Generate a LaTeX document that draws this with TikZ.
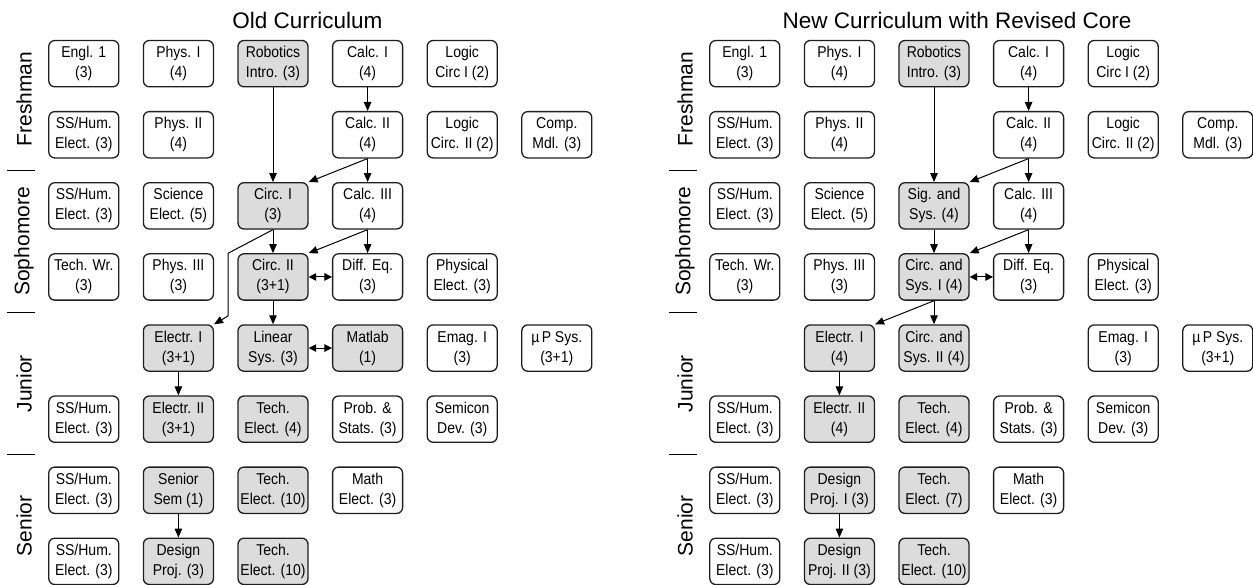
\documentclass[tikz,border=0pt]{standalone}
\usepackage{fontspec}
\usepackage{graphicx}
\setmainfont{Liberation Sans}
\usetikzlibrary{arrows.meta}
\definecolor{boxgray}{HTML}{DCDCDC}
\definecolor{edgecol}{HTML}{1E1E1E}
\newcommand\twoline[2]{\scalebox{1}[1.12]{\begin{tabular}{@{}c@{}}#1\\[-0.05pt]#2\end{tabular}}}
\tikzset{
 course/.style={draw=edgecol, line width=1.3pt, rounded corners=6pt, minimum width=70pt, minimum height=46.3pt, inner sep=0pt, align=center, font=\fontsize{14}{17.9}\selectfont, fill=white},
 core/.style={course, fill=boxgray},
 link/.style={draw=black, line width=1pt, -{Triangle[length=9pt,width=7.5pt]}},
 both/.style={draw=black, line width=1pt, {Triangle[length=7.5pt,width=7.5pt]}-{Triangle[length=7.5pt,width=7.5pt]}},
 year/.style={rotate=90, font=\fontsize{21}{24}\selectfont},
 ptitle/.style={font=\fontsize{22.5}{26}\selectfont},
 sepline/.style={line width=1.1pt}
}
\begin{document}
\begin{tikzpicture}[x=1pt,y=-1pt]
\useasboundingbox (0,0) rectangle (1253,584);
% titles
\node[ptitle] (t1) at (307.5,20) {Old Curriculum};
\node[ptitle] (t2) at (957,20) {New Curriculum with Revised Core};
% year labels and separators
\node[year] (ya1) at (24,99.2) {Freshman};
\node[year] (ya2) at (24,241.4) {Sophomore};
\node[year] (ya3) at (24,383.6) {Junior};
\node[year] (ya4) at (24,525.8) {Senior};
\draw[sepline] (7,170.5) -- (35,170.5);
\draw[sepline] (7,312.5) -- (35,312.5);
\draw[sepline] (7,454.7) -- (35,454.7);
\node[year] (yb1) at (685,99.2) {Freshman};
\node[year] (yb2) at (685,241.4) {Sophomore};
\node[year] (yb3) at (685,383.6) {Junior};
\node[year] (yb4) at (685,525.8) {Senior};
\draw[sepline] (669,170.5) -- (697,170.5);
\draw[sepline] (669,312.5) -- (697,312.5);
\draw[sepline] (669,454.7) -- (697,454.7);

% ---------- Old curriculum ----------
\begin{scope}[shift={(83.8,63.65)}, x=94.6pt, y=-71.1pt]
\node[course] (aEng) at (0,0) {\twoline{Engl. 1}{(3)}};
\node[course] (aPh1) at (1,0) {\twoline{Phys. I}{(4)}};
\node[core]   (aRob) at (2,0) {\twoline{Robotics}{Intro. (3)}};
\node[course] (aCa1) at (3,0) {\twoline{Calc. I}{(4)}};
\node[course] (aLo1) at (4,0) {\twoline{Logic}{Circ I (2)}};
\node[course] (aSS1) at (0,1) {\twoline{SS/Hum.}{Elect. (3)}};
\node[course] (aPh2) at (1,1) {\twoline{Phys. II}{(4)}};
\node[course] (aCa2) at (3,1) {\twoline{Calc. II}{(4)}};
\node[course] (aLo2) at (4,1) {\twoline{Logic}{Circ. II (2)}};
\node[course] (aCmp) at (5,1) {\twoline{Comp.}{Mdl. (3)}};
\node[course] (aSS2) at (0,2) {\twoline{SS/Hum.}{Elect. (3)}};
\node[course] (aSci) at (1,2) {\twoline{Science}{Elect. (5)}};
\node[core]   (aCi1) at (2,2) {\twoline{Circ. I}{(3)}};
\node[course] (aCa3) at (3,2) {\twoline{Calc. III}{(4)}};
\node[course] (aTW)  at (0,3) {\twoline{Tech. Wr.}{(3)}};
\node[course] (aPh3) at (1,3) {\twoline{Phys. III}{(3)}};
\node[core]   (aCi2) at (2,3) {\twoline{Circ. II}{(3+1)}};
\node[course] (aDE)  at (3,3) {\twoline{Diff. Eq.}{(3)}};
\node[course] (aPE)  at (4,3) {\twoline{Physical}{Elect. (3)}};
\node[core]   (aEl1) at (1,4) {\twoline{Electr. I}{(3+1)}};
\node[core]   (aLin) at (2,4) {\twoline{Linear}{Sys. (3)}};
\node[core]   (aMat) at (3,4) {\twoline{Matlab}{(1)}};
\node[course] (aEm)  at (4,4) {\twoline{Emag. I}{(3)}};
\node[course] (aUP)  at (5,4) {\twoline{µ\,P Sys.}{(3+1)}};
\node[course] (aSS3) at (0,5) {\twoline{SS/Hum.}{Elect. (3)}};
\node[core]   (aEl2) at (1,5) {\twoline{Electr. II}{(3+1)}};
\node[core]   (aTE4) at (2,5) {\twoline{Tech.}{Elect. (4)}};
\node[course] (aPrb) at (3,5) {\twoline{Prob. \&}{Stats. (3)}};
\node[course] (aSem) at (4,5) {\twoline{Semicon}{Dev. (3)}};
\node[course] (aSS4) at (0,6) {\twoline{SS/Hum.}{Elect. (3)}};
\node[core]   (aSen) at (1,6) {\twoline{Senior}{Sem (1)}};
\node[core]   (aTEa) at (2,6) {\twoline{Tech.}{Elect. (10)}};
\node[course] (aMth) at (3,6) {\twoline{Math}{Elect. (3)}};
\node[course] (aSS5) at (0,7) {\twoline{SS/Hum.}{Elect. (3)}};
\node[core]   (aDes) at (1,7) {\twoline{Design}{Proj. (3)}};
\node[core]   (aTEb) at (2,7) {\twoline{Tech.}{Elect. (10)}};
\end{scope}
\coordinate (ak1) at (228,253.3);
\coordinate (ak2) at (228,316);
\draw[link] (aRob.south) -- (aCi1.north);
\draw[link] (aCa1.south) -- (aCa2.north);
\draw[link] (aCa2.south) -- (aCi1.north east);
\draw[link] (aCa2.south) -- (aCa3.north);
\draw[link] (aCi1.south) -- (aCi2.north);
\draw[link] (aCa3.south) -- (aCi2.north east);
\draw[link] (aCa3.south) -- (aDE.north);
\draw[both] (aCi2.east) -- (aDE.west);
\draw[link] (aCi1.south) -- (ak1) -- (ak2) -- (aEl1.north east);
\draw[link] (aCi2.south) -- (aLin.north);
\draw[both] (aLin.east) -- (aMat.west);
\draw[link] (aEl1.south) -- (aEl2.north);
\draw[link] (aSen.south) -- (aDes.north);

% ---------- New curriculum ----------
\begin{scope}[shift={(744.8,63.65)}, x=94.6pt, y=-71.1pt]
\node[course] (bEng) at (0,0) {\twoline{Engl. 1}{(3)}};
\node[course] (bPh1) at (1,0) {\twoline{Phys. I}{(4)}};
\node[core]   (bRob) at (2,0) {\twoline{Robotics}{Intro. (3)}};
\node[course] (bCa1) at (3,0) {\twoline{Calc. I}{(4)}};
\node[course] (bLo1) at (4,0) {\twoline{Logic}{Circ I (2)}};
\node[course] (bSS1) at (0,1) {\twoline{SS/Hum.}{Elect. (3)}};
\node[course] (bPh2) at (1,1) {\twoline{Phys. II}{(4)}};
\node[course] (bCa2) at (3,1) {\twoline{Calc. II}{(4)}};
\node[course] (bLo2) at (4,1) {\twoline{Logic}{Circ. II (2)}};
\node[course] (bCmp) at (5,1) {\twoline{Comp.}{Mdl. (3)}};
\node[course] (bSS2) at (0,2) {\twoline{SS/Hum.}{Elect. (3)}};
\node[course] (bSci) at (1,2) {\twoline{Science}{Elect. (5)}};
\node[core]   (bSig) at (2,2) {\twoline{Sig. and}{Sys. (4)}};
\node[course] (bCa3) at (3,2) {\twoline{Calc. III}{(4)}};
\node[course] (bTW)  at (0,3) {\twoline{Tech. Wr.}{(3)}};
\node[course] (bPh3) at (1,3) {\twoline{Phys. III}{(3)}};
\node[core]   (bCS1) at (2,3) {\twoline{Circ. and}{Sys. I (4)}};
\node[course] (bDE)  at (3,3) {\twoline{Diff. Eq.}{(3)}};
\node[course] (bPE)  at (4,3) {\twoline{Physical}{Elect. (3)}};
\node[core]   (bEl1) at (1,4) {\twoline{Electr. I}{(4)}};
\node[core]   (bCS2) at (2,4) {\twoline{Circ. and}{Sys. II (4)}};
\node[course] (bEm)  at (4,4) {\twoline{Emag. I}{(3)}};
\node[course] (bUP)  at (5,4) {\twoline{µ\,P Sys.}{(3+1)}};
\node[course] (bSS3) at (0,5) {\twoline{SS/Hum.}{Elect. (3)}};
\node[core]   (bEl2) at (1,5) {\twoline{Electr. II}{(4)}};
\node[core]   (bTE4) at (2,5) {\twoline{Tech.}{Elect. (4)}};
\node[course] (bPrb) at (3,5) {\twoline{Prob. \&}{Stats. (3)}};
\node[course] (bSem) at (4,5) {\twoline{Semicon}{Dev. (3)}};
\node[course] (bSS4) at (0,6) {\twoline{SS/Hum.}{Elect. (3)}};
\node[core]   (bDP1) at (1,6) {\twoline{Design}{Proj. I (3)}};
\node[core]   (bTE7) at (2,6) {\twoline{Tech.}{Elect. (7)}};
\node[course] (bMth) at (3,6) {\twoline{Math}{Elect. (3)}};
\node[course] (bSS5) at (0,7) {\twoline{SS/Hum.}{Elect. (3)}};
\node[core]   (bDP2) at (1,7) {\twoline{Design}{Proj. II (3)}};
\node[core]   (bTEb) at (2,7) {\twoline{Tech.}{Elect. (10)}};
\end{scope}
\draw[link] (bRob.south) -- (bSig.north);
\draw[link] (bCa1.south) -- (bCa2.north);
\draw[link] (bCa2.south) -- (bSig.north east);
\draw[link] (bCa2.south) -- (bCa3.north);
\draw[link] (bSig.south) -- (bCS1.north);
\draw[link] (bCa3.south) -- (bCS1.north east);
\draw[link] (bCa3.south) -- (bDE.north);
\draw[both] (bCS1.east) -- (bDE.west);
\draw[link] (bCS1.south) -- (bEl1.north east);
\draw[link] (bCS1.south) -- (bCS2.north);
\draw[link] (bEl1.south) -- (bEl2.north);
\draw[link] (bDP1.south) -- (bDP2.north);
\end{tikzpicture}
\end{document}
